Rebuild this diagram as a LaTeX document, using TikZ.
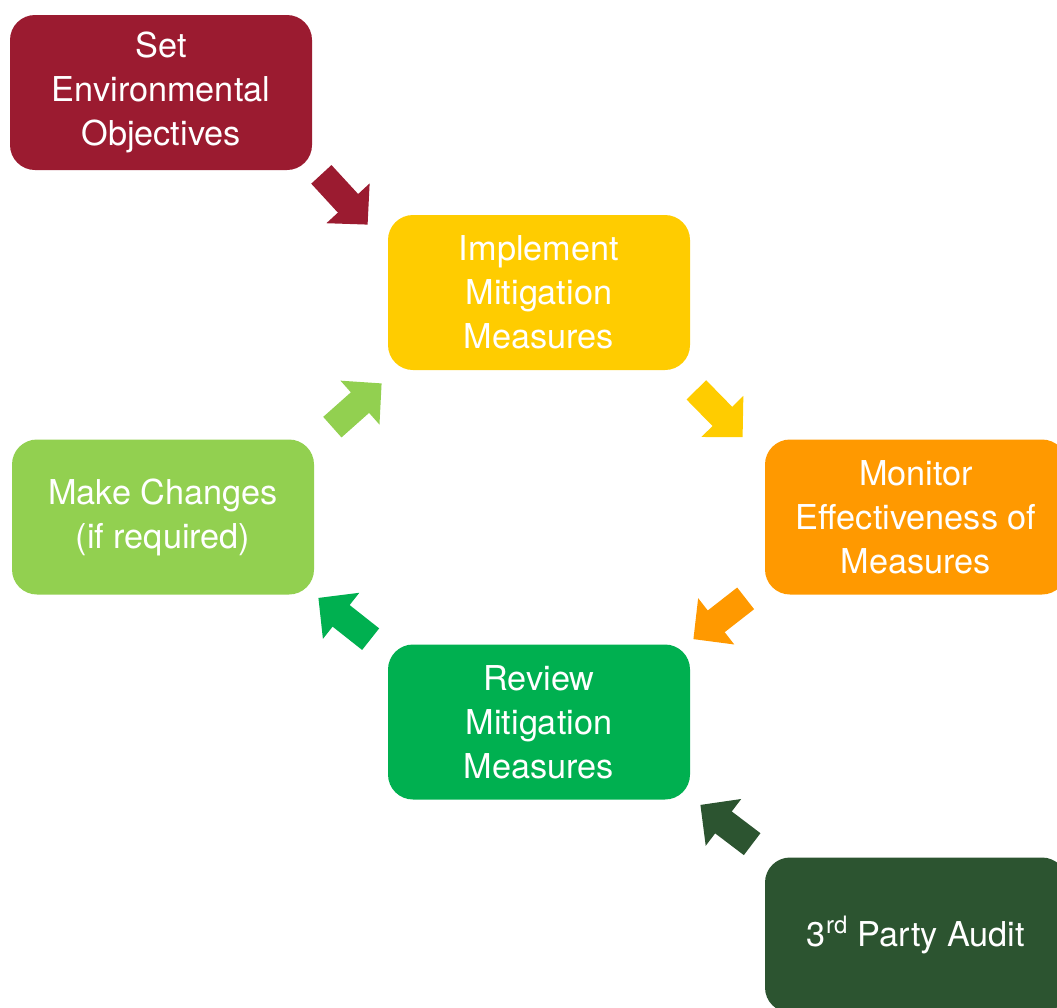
\documentclass[tikz,border=0pt]{standalone}
\usepackage{fontspec}
\setmainfont{TeX Gyre Heros}
\usetikzlibrary{arrows.meta,calc}

\definecolor{setred}{HTML}{9B1B30}
\definecolor{implyellow}{HTML}{FFCC00}
\definecolor{monorange}{HTML}{FF9900}
\definecolor{makegreen}{HTML}{92D050}
\definecolor{revgreen}{HTML}{00B050}
\definecolor{auditgreen}{HTML}{2C5430}

\tikzset{
  stepbox/.style={rectangle, rounded corners=0.5cm, fill=#1, draw=none,
    minimum width=6.04cm, minimum height=3.1cm, align=center,
    text=white, font=\fontsize{19.5}{25}\selectfont},
  flow/.style={draw=#1, line width=0.55cm,
    -{Triangle[length=0.58cm, width=1.14cm, fill=#1]}}
}

\begin{document}
\begin{tikzpicture}
  \useasboundingbox (0,0) rectangle (21.14,-20.14);
  \node[stepbox=setred]     (set)    at (3.22,-1.85)  {Set\\Environmental\\Objectives};
  \node[stepbox=implyellow] (impl)   at (10.78,-5.85) {Implement\\Mitigation\\Measures};
  \node[stepbox=monorange]  (mon)    at (18.32,-10.34) {Monitor\\Effectiveness of\\Measures};
  \node[stepbox=makegreen]  (change) at (3.26,-10.34) {Make Changes\\(if required)};
  \node[stepbox=revgreen]   (review) at (10.78,-14.44) {Review\\Mitigation\\Measures};
  \node[stepbox=auditgreen] (audit)  at (18.32,-18.7) {3\textsuperscript{rd} Party Audit};

  % block arrows sitting in the gaps between the boxes
  \draw[flow=setred]     ($(set.south east)+(0.18,-0.08)$)    -- ($(impl.north west)+(-0.4,-0.2)$);
  \draw[flow=implyellow] ($(impl.south east)+(0.12,-0.39)$)   -- ($(mon.north west)+(-0.44,0.04)$);
  \draw[flow=monorange]  ($(mon.south west)+(-0.38,-0.07)$)   -- ($(review.north east)+(0.06,0.1)$);
  \draw[flow=revgreen]   ($(review.north west)+(-0.34,0.1)$)  -- ($(change.south east)+(0.08,-0.06)$);
  \draw[flow=makegreen]  ($(change.north east)+(0.36,0.24)$)  -- ($(impl.south west)+(-0.12,-0.26)$);
  \draw[flow=auditgreen] ($(audit.north west)+(-0.25,0.26)$)  -- ($(review.south east)+(0.2,-0.1)$);
\end{tikzpicture}
\end{document}
